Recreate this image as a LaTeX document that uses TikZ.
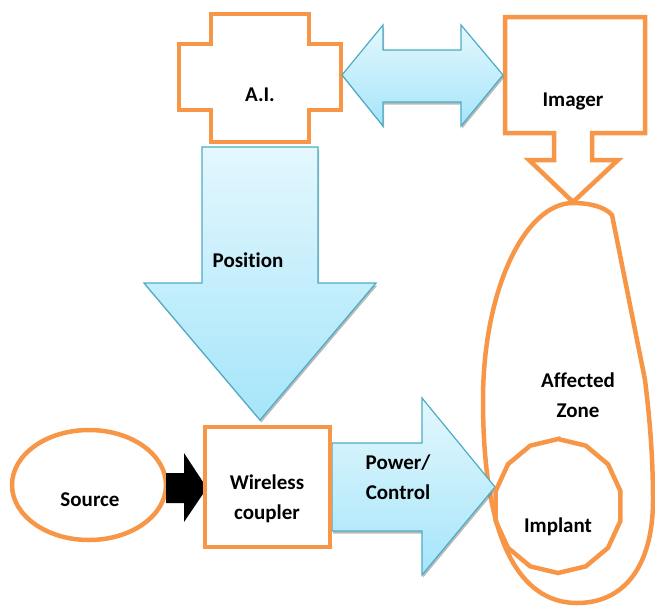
\documentclass[tikz,border=0pt]{standalone}
\usepackage{fontspec}
\setmainfont{Carlito}[Ligatures={NoCommon}]
\usetikzlibrary{shadows}
\definecolor{orng}{HTML}{F79646}
\definecolor{bline}{HTML}{4BACC6}
\definecolor{btop}{HTML}{E4F7FD}
\definecolor{bbot}{HTML}{A5E5FA}
\tikzset{
  obox/.style={draw=orng, line width=4.5pt, line join=miter},
  barrow/.style={draw=bline, line width=1.2pt, top color=btop, bottom color=bbot,
    drop shadow={shadow xshift=1.2pt, shadow yshift=-2.5pt, fill=black!50, opacity=0.55}},
  lbl/.style={font=\fontsize{21}{30}\selectfont\bfseries, align=center, inner sep=0pt, anchor=base},
}
\begin{document}
\begin{tikzpicture}[x=1pt,y=-1pt]
\useasboundingbox (0,0) rectangle (655,605);
% Affected zone
\draw[obox] (573,203) .. controls (525,203) and (483,290) .. (483,400)
  .. controls (483,560) and (530,603) .. (577,603)
  .. controls (625,603) and (653,565) .. (653,500)
  .. controls (653,460) and (650,420) .. (645,380)
  -- (612,215) .. controls (605,207) and (590,203) .. (573,203) -- cycle;
% A.I. cross
\draw[obox] (211,14) -- (309,14) -- (309,44) -- (341,44) -- (341,110) -- (309,110) -- (309,142) -- (211,142) -- (211,110) -- (179,110) -- (179,44) -- (211,44) -- cycle;
% Imager callout
\draw[obox] (505,17) -- (645,17) -- (645,133) -- (592,133) -- (592,160) -- (618,160) -- (573,202) -- (529,160) -- (554,160) -- (554,133) -- (505,133) -- cycle;
% Double arrow
\path[barrow] (342,75) -- (383,25) -- (383,50) -- (461,50) -- (461,25) -- (503,75) -- (461,126) -- (461,102) -- (383,102) -- (383,126) -- cycle;
% Position arrow
\path[barrow] (202,147) -- (318,147) -- (318,283) -- (376,283) -- (260,420) -- (144,283) -- (202,283) -- cycle;
% Power/Control arrow
\path[barrow] (332,443) -- (422,443) -- (422,398) -- (495,487) -- (422,575) -- (422,531) -- (332,531) -- cycle;
% Source
\draw[obox] (89,485) ellipse [x radius=77, y radius=55];
% Black arrow
\fill[black] (166,473) -- (184,473) -- (184,453) -- (207,488) -- (184,522) -- (184,503) -- (166,503) -- cycle;
% Wireless coupler box
\draw[obox] (205,427) rectangle (330,547);
% Implant
\draw[obox] plot[samples=15, domain=90:450, variable=\t] ({558+64*cos(\t)},{506-67*sin(\t)}) -- cycle;
% Labels
\node[lbl] (ai) at (260,101) {A.I.};
\node[lbl] (imager) at (573,106) {Imager};
\node[lbl] (pos) at (248,267) {Position};
\node[lbl] (zone) at (578,417) {Affected\\Zone};
\node[lbl] (src) at (90,506) {Source};
\node[lbl] (wc) at (267,519) {Wireless\\coupler};
\node[lbl] (pc) at (398,499) {Power/\\Control};
\node[lbl] (imp) at (558,532) {Implant};
\end{tikzpicture}
\end{document}
